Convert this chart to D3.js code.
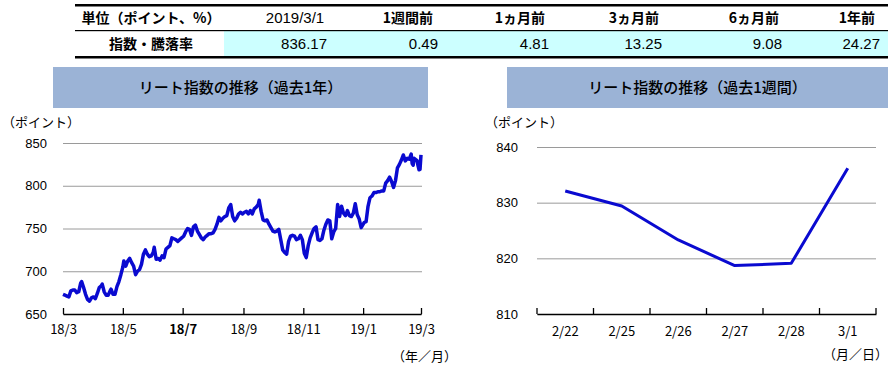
<!DOCTYPE html>
<html>
<head>
<meta charset="utf-8">
<script src="https://cdn.jsdelivr.net/npm/d3@7"></script>
<style>
  body { margin: 0; background: #fff; }
  text { fill: #000; }
</style>
</head>
<body>
<div id="canvas"></div>
<script>
"use strict"

/* ---- data ---- */
const tableHeaders = ["単位（ポイント、%）", "2019/3/1", "1週間前", "1ヵ月前", "3ヵ月前", "6ヵ月前", "1年前"];
const tableRowLabel = "指数・騰落率";
const tableValues = ["836.17", "0.49", "4.81", "13.25", "9.08", "24.27"];

const yearDates = [
  "2018-03-01","2018-03-03","2018-03-05","2018-03-07","2018-03-09","2018-03-11","2018-03-13","2018-03-15","2018-03-17","2018-03-19",
  "2018-03-20","2018-03-22","2018-03-24","2018-03-26","2018-03-28","2018-03-30","2018-04-01","2018-04-03","2018-04-05","2018-04-07",
  "2018-04-09","2018-04-10","2018-04-12","2018-04-14","2018-04-16","2018-04-18","2018-04-19","2018-04-21","2018-04-23","2018-04-25",
  "2018-04-27","2018-04-29","2018-05-01","2018-05-02","2018-05-04","2018-05-06","2018-05-08","2018-05-10","2018-05-12","2018-05-14",
  "2018-05-16","2018-05-18","2018-05-20","2018-05-22","2018-05-24","2018-05-26","2018-05-28","2018-05-30","2018-06-01","2018-06-02",
  "2018-06-04","2018-06-06","2018-06-08","2018-06-10","2018-06-12","2018-06-14","2018-06-16","2018-06-18","2018-06-20","2018-06-22",
  "2018-06-24","2018-06-26","2018-06-28","2018-06-30","2018-07-02","2018-07-04","2018-07-06","2018-07-08","2018-07-10","2018-07-12",
  "2018-07-14","2018-07-16","2018-07-18","2018-07-20","2018-07-22","2018-07-24","2018-07-26","2018-07-28","2018-07-30","2018-08-01",
  "2018-08-03","2018-08-05","2018-08-07","2018-08-09","2018-08-11","2018-08-13","2018-08-15","2018-08-17","2018-08-19","2018-08-21",
  "2018-08-23","2018-08-25","2018-08-27","2018-08-29","2018-08-31","2018-09-02","2018-09-04","2018-09-06","2018-09-08","2018-09-10",
  "2018-09-12","2018-09-14","2018-09-16","2018-09-17","2018-09-19","2018-09-21","2018-09-23","2018-09-25","2018-09-27","2018-09-29",
  "2018-10-01","2018-10-03","2018-10-05","2018-10-07","2018-10-09","2018-10-11","2018-10-13","2018-10-15","2018-10-17","2018-10-19",
  "2018-10-21","2018-10-23","2018-10-25","2018-10-27","2018-10-29","2018-10-31","2018-11-02","2018-11-04","2018-11-06","2018-11-08",
  "2018-11-10","2018-11-12","2018-11-14","2018-11-16","2018-11-18","2018-11-20","2018-11-22","2018-11-24","2018-11-26","2018-11-28",
  "2018-11-30","2018-12-02","2018-12-04","2018-12-06","2018-12-08","2018-12-10","2018-12-12","2018-12-14","2018-12-16","2018-12-18",
  "2018-12-20","2018-12-22","2018-12-24","2018-12-26","2018-12-28","2018-12-30","2019-01-02","2019-01-04","2019-01-06","2019-01-08",
  "2019-01-10","2019-01-12","2019-01-14","2019-01-16","2019-01-18","2019-01-20","2019-01-22","2019-01-24","2019-01-26","2019-01-28",
  "2019-01-30","2019-02-01","2019-02-03","2019-02-05","2019-02-07","2019-02-09","2019-02-11","2019-02-13","2019-02-15","2019-02-17",
  "2019-02-19","2019-02-20","2019-02-21","2019-02-22","2019-02-25","2019-02-26","2019-02-27","2019-02-28","2019-03-01"
];
const yearValues = [
  673,672,671,670,677,678,678,675,676,686,
  688,681,673,667,665,669,670,668,674,681,
  683,685,676,672,672,677,679,673,673,682,
  688,696,705,712,706,712,715,710,706,696,
  700,702,708,720,725,720,717,718,722,728,
  714,715,713,718,716,726,728,730,739,738,
  737,735,737,739,741,746,750,749,742,752,
  754,747,743,739,737,740,742,744,744,745,
  749,755,763,759,762,764,765,774,778,764,
  759,762,767,769,767,769,770,767,771,767,
  773,775,778,783,770,760,759,760,755,751,
  747,746,747,749,737,725,722,720,735,741,
  742,741,737,738,742,737,721,716,730,739,
  745,750,752,737,736,738,748,755,760,759,
  738,746,750,778,764,776,768,765,771,765,
  764,768,779,766,761,751,757,758,776,786,
  788,792,792,793,793,794,794,803,806,810,
  805,798,806,821,825,830,836,829,832,831,
  837,826,824,832.09,829.4,823.3,818.7,819.1,836.17
];
const yearTicks = [650, 700, 750, 800, 850];

const weekDates = ["2/22", "2/25", "2/26", "2/27", "2/28", "3/1"];
const weekValues = [832.09, 829.4, 823.3, 818.7, 819.1, 836.17];
const weekTicks = [810, 820, 830, 840];

/* ---- canvas ---- */
const W = 892, H = 369;
const jp = "'Noto Sans CJK JP', sans-serif";
const num = "'Liberation Sans', Arial, sans-serif";
const lineColor = "#0a0ad0";
const gridColor = "#9a9a9a";
const titleFill = "#9bb3d6";

let drawing = d3.select("#canvas")
    .append("svg")
    .attr("width", W)
    .attr("height", H)
    .style("display", "block");

/* ===== table ===== */
let table = drawing.append("g");

table.append("rect")
    .attr("x", 224).attr("y", 31).attr("width", 664).attr("height", 25)
    .attr("fill", "#ccffff");

table.append("rect").attr("x", 75).attr("y", 4).attr("width", 813).attr("height", 2.5).attr("fill", "#000");
table.append("rect").attr("x", 75).attr("y", 30).attr("width", 813).attr("height", 1.2).attr("fill", "#000");
table.append("rect").attr("x", 75).attr("y", 56).attr("width", 813).attr("height", 2.5).attr("fill", "#000");

const headCenters = [151, 295, 408, 520, 634, 754, 857];
const valueEnds = [327, 438, 549, 662, 782, 880];

table.selectAll("text.head")
    .data(tableHeaders)
    .join("text")
    .attr("class", "head")
    .attr("x", (d, i) => headCenters[i])
    .attr("y", 18)
    .attr("dy", "0.35em")
    .attr("text-anchor", "middle")
    .style("font-family", (d, i) => i === 1 ? num : jp)
    .style("font-weight", (d, i) => i === 1 ? "normal" : "bold")
    .style("font-size", (d, i) => i === 1 ? "15px" : "14px")
    .text(d => d);

table.append("text")
    .attr("x", 151).attr("y", 44).attr("dy", "0.35em")
    .attr("text-anchor", "middle")
    .style("font-family", jp).style("font-size", "14px").style("font-weight", "bold")
    .text(tableRowLabel);

table.selectAll("text.val")
    .data(tableValues)
    .join("text")
    .attr("class", "val")
    .attr("x", (d, i) => valueEnds[i])
    .attr("y", 44)
    .attr("dy", "0.35em")
    .attr("text-anchor", "end")
    .style("font-family", num)
    .style("font-size", "15px")
    .text(d => d);

/* ===== helper: title box ===== */
function titleBox(x0, x1, label) {
    drawing.append("rect")
        .attr("x", x0).attr("y", 67).attr("width", x1 - x0).attr("height", 41)
        .attr("fill", titleFill);
    drawing.append("text")
        .attr("x", (x0 + x1) / 2).attr("y", 88).attr("dy", "0.35em")
        .attr("text-anchor", "middle")
        .style("font-family", jp).style("font-size", "15px").style("font-weight", 500)
        .text(label);
}

function styleGrid(g) {
    g.select(".domain").remove();
    g.selectAll(".tick line").attr("stroke", gridColor).attr("stroke-width", 1);
    g.selectAll(".tick text")
        .style("font-family", num).style("font-size", "13px").attr("fill", "#000");
}

/* ===== left chart: past 1 year ===== */
titleBox(53, 428, "リート指数の推移（過去1年）");

const parseDate = d3.timeParse("%Y-%m-%d");
const yearData = yearDates.map((d, i) => ({ date: parseDate(d), value: yearValues[i] }));

const xYear = d3.scaleTime()
    .domain([parseDate("2018-03-01"), parseDate("2019-03-01")])
    .range([63, 421]);
const yYear = d3.scaleLinear()
    .domain([650, 850])
    .range([314, 143]);

drawing.append("text")
    .attr("x", 2).attr("y", 122).attr("dy", "0.35em")
    .style("font-family", jp).style("font-size", "13px")
    .text("（ポイント）");

let yAxisL = drawing.append("g")
    .attr("transform", "translate(63,0)")
    .call(d3.axisLeft(yYear).tickValues(yearTicks).tickSizeInner(-359).tickSizeOuter(0).tickPadding(16));
styleGrid(yAxisL);

let xAxisL = drawing.append("g")
    .attr("transform", "translate(0,314)")
    .call(d3.axisBottom(xYear)
        .ticks(d3.timeMonth.every(2))
        .tickFormat(d3.timeFormat("%y/%-m"))
        .tickSizeInner(-6).tickSizeOuter(0).tickPadding(11));
xAxisL.select(".domain").attr("stroke", "#000").attr("stroke-width", 1.3);
xAxisL.selectAll(".tick line").attr("stroke", "#000").attr("stroke-width", 1.3);
xAxisL.selectAll(".tick text")
    .style("font-family", jp).style("font-size", "13px").attr("fill", "#000")
    .style("font-weight", d => d.getMonth() === 6 ? "bold" : "normal");

drawing.append("path")
    .datum(yearData)
    .attr("fill", "none")
    .attr("stroke", lineColor)
    .attr("stroke-width", 3.5)
    .attr("stroke-linejoin", "round")
    .attr("d", d3.line().x(d => xYear(d.date)).y(d => yYear(d.value)));

drawing.append("text")
    .attr("x", 392).attr("y", 356).attr("dy", "0.35em")
    .style("font-family", jp).style("font-size", "13px")
    .text("（年／月）");

/* ===== right chart: past 1 week ===== */
titleBox(507, 888, "リート指数の推移（過去1週間）");

const xWeek = d3.scaleBand()
    .domain(weekDates)
    .range([537, 876])
    .padding(0);
const yWeek = d3.scaleLinear()
    .domain([810, 840])
    .range([314, 147]);

drawing.append("text")
    .attr("x", 485).attr("y", 122).attr("dy", "0.35em")
    .style("font-family", jp).style("font-size", "13px")
    .text("（ポイント）");

let yAxisR = drawing.append("g")
    .attr("transform", "translate(537,0)")
    .call(d3.axisLeft(yWeek).tickValues(weekTicks).tickSizeInner(-339).tickSizeOuter(0).tickPadding(19));
styleGrid(yAxisR);

let xAxisR = drawing.append("g")
    .attr("transform", "translate(0,314)")
    .call(d3.axisBottom(xWeek).tickSize(0).tickPadding(13));
xAxisR.select(".domain").attr("stroke", "#000").attr("stroke-width", 1.3);
xAxisR.selectAll(".tick text")
    .style("font-family", jp).style("font-size", "13px").attr("fill", "#000");

/* tick marks sit on the band edges */
xAxisR.selectAll("line.edge")
    .data(d3.range(weekDates.length + 1))
    .join("line")
    .attr("class", "edge")
    .attr("x1", i => xWeek.range()[0] + i * xWeek.step())
    .attr("x2", i => xWeek.range()[0] + i * xWeek.step())
    .attr("y1", 0).attr("y2", -6)
    .attr("stroke", "#000").attr("stroke-width", 1.3);

drawing.append("path")
    .datum(weekValues)
    .attr("fill", "none")
    .attr("stroke", lineColor)
    .attr("stroke-width", 3)
    .attr("stroke-linejoin", "round")
    .attr("d", d3.line()
        .x((d, i) => xWeek(weekDates[i]) + xWeek.bandwidth() / 2)
        .y(d => yWeek(d)));

drawing.append("text")
    .attr("x", 823).attr("y", 354).attr("dy", "0.35em")
    .style("font-family", jp).style("font-size", "13px")
    .text("（月／日）");
</script>
</body>
</html>
